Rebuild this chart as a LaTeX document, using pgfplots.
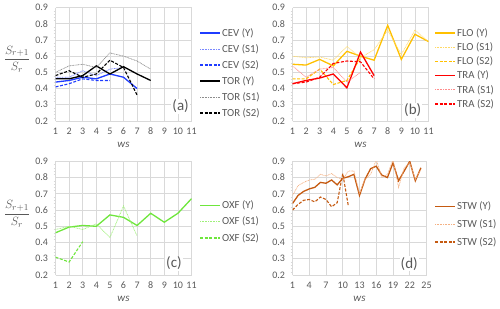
\documentclass[border=0pt]{standalone}
\usepackage{pgfplots}
\pgfplotsset{compat=1.18}
\usepackage{fontspec}
\setmainfont{Carlito}
\definecolor{tickgray}{HTML}{595959}
\definecolor{gridgray}{HTML}{D9D9D9}
\definecolor{cev}{HTML}{1F3CFF}
\definecolor{cevl}{HTML}{7A88FF}
\definecolor{torl}{HTML}{8C8C8C}
\definecolor{flo}{HTML}{FFC000}
\definecolor{flol}{HTML}{FFD966}
\definecolor{tra}{HTML}{FF0000}
\definecolor{tral}{HTML}{FF8C8C}
\definecolor{oxf}{HTML}{6EE63C}
\definecolor{oxfl}{HTML}{A0F07A}
\definecolor{stw}{HTML}{C55A11}
\definecolor{stwl}{HTML}{F4B183}
\tikzset{
  plab/.style={fill=white, inner sep=1pt, font=\fontsize{15}{17}\selectfont},
  sy/.style={line width=1.3pt},
  s1/.style={line width=0.7pt, dash pattern=on 0.9pt off 0.7pt},
  s2/.style={line width=1.1pt, dash pattern=on 3pt off 1.6pt},
  legtext/.style={anchor=west, inner sep=1pt, font=\fontsize{10.8}{12}\selectfont},
}
\pgfplotsset{
  panel/.style={
    scale only axis, width=136pt, height=113.5pt,
    ymin=0.2, ymax=0.9, ytick={0.2,0.3,0.4,0.5,0.6,0.7,0.8,0.9},
    xmin=1, xmax=11, xtick={1,2,3,4,5,6,7,8,9,10,11},
    grid=major, major grid style={draw=gridgray, line width=0.6pt},
    axis x line*=bottom, axis y line*=left,
    axis line style={draw=gridgray, line width=0.6pt},
    major tick length=0pt, minor tick length=2pt, tick align=outside,
    minor y tick num=4, minor tick style={draw=gridgray},
    /pgf/number format/assume math mode=true,
    tick label style={font=\fontsize{10}{12}\selectfont},
    yticklabel style={/tikz/xshift=-4pt, /pgf/number format/.cd, fixed, fixed zerofill, precision=1},
    xticklabel style={/tikz/yshift=-5.5pt, inner sep=1pt},
    xlabel={\textit{ws}},
    xlabel style={at={(axis description cs:0.5,0)}, anchor=center, yshift=-23.5pt, inner sep=0pt, font=\fontsize{11}{12}\selectfont},
  },
  ylab/.style={ylabel={$\displaystyle\frac{S_{r+1}}{S_r}$},
    ylabel style={rotate=-90, at={(axis description cs:0,#1)}, anchor=center, xshift=-38.5pt, font=\fontsize{12.5}{14}\selectfont}},
}
\begin{document}
\begin{tikzpicture}[x=1pt,y=1pt,color=tickgray]
\useasboundingbox (0,0) rectangle (500,-308);
% (a)
\begin{axis}[panel, at={(55.5pt,-121pt)}, anchor=south west, ylab=0.546]
\addplot[draw=cev, sy] coordinates {(1,0.44)(2,0.45)(3,0.47)(4,0.46)(5,0.49)(6,0.47)(7,0.40)};
\addplot[draw=cevl, s1] coordinates {(1,0.47)(2,0.47)(3,0.51)(4,0.48)(5,0.52)(6,0.53)};
\addplot[draw=cev, s2] coordinates {(1,0.41)(2,0.43)(3,0.46)(4,0.45)(5,0.45)};
\addplot[draw=black, sy] coordinates {(1,0.46)(2,0.46)(3,0.48)(4,0.54)(5,0.49)(6,0.535)(7,0.49)(8,0.45)};
\addplot[draw=torl, s1] coordinates {(1,0.50)(2,0.54)(3,0.55)(4,0.53)(5,0.62)(6,0.60)(7,0.57)(8,0.52)};
\addplot[draw=black, s2] coordinates {(1,0.48)(2,0.51)(3,0.47)(4,0.49)(5,0.575)(6,0.53)(7,0.36)};
\node[plab] at (axis cs:10.2,0.29) {(a)};
\end{axis}
% (b)
\begin{axis}[panel, at={(292.5pt,-121pt)}, anchor=south west]
\addplot[draw=flo, sy] coordinates {(1,0.55)(2,0.545)(3,0.58)(4,0.54)(5,0.63)(6,0.60)(7,0.575)(8,0.79)(9,0.58)(10,0.735)(11,0.69)};
\addplot[draw=flol, s1] coordinates {(1,0.60)(2,0.59)(3,0.595)(4,0.575)(5,0.66)(6,0.59)(7,0.64)(8,0.76)(9,0.61)(10,0.76)(11,0.69)};
\addplot[draw=flo, s2] coordinates {(1,0.46)(2,0.46)(3,0.52)(4,0.425)(5,0.45)(6,0.59)};
\addplot[draw=tra, sy] coordinates {(1,0.43)(2,0.45)(3,0.465)(4,0.49)(5,0.405)(6,0.625)(7,0.48)};
\addplot[draw=tral, s1] coordinates {(1,0.54)(2,0.47)(3,0.52)(4,0.53)(5,0.44)(6,0.50)};
\addplot[draw=tra, s2] coordinates {(1,0.43)(2,0.44)(3,0.47)(4,0.555)(5,0.57)(6,0.565)(7,0.46)};
\node[plab] at (axis cs:9.84,0.266) {(b)};
\end{axis}
% (c)
\begin{axis}[panel, at={(55.5pt,-275pt)}, anchor=south west, height=113.7pt, ylab=0.537]
\addplot[draw=oxf, sy] coordinates {(1,0.46)(2,0.495)(3,0.505)(4,0.50)(5,0.57)(6,0.555)(7,0.505)(8,0.58)(9,0.525)(10,0.58)(11,0.67)};
\addplot[draw=oxfl, s1] coordinates {(1,0.48)(2,0.50)(3,0.48)(4,0.515)(5,0.43)(6,0.625)(7,0.44)};
\addplot[draw=oxf, s2] coordinates {(1,0.31)(2,0.28)(3,0.405)};
\node[plab] at (axis cs:9.71,0.273) {(c)};
\end{axis}
% (d)
\begin{axis}[panel, at={(292.5pt,-275pt)}, anchor=south west, width=134pt, height=113.7pt,
  xmin=1, xmax=25, xtick={1,4,7,10,13,16,19,22,25}]
\addplot[draw=stw, sy] coordinates {(1,0.64)(2,0.69)(3,0.715)(4,0.73)(5,0.74)(6,0.77)(7,0.765)(8,0.785)(9,0.755)(10,0.795)(11,0.805)(12,0.82)(13,0.69)(14,0.79)(15,0.855)(16,0.87)(17,0.815)(18,0.80)(19,0.89)(20,0.78)(21,0.84)(22,0.90)(23,0.78)(24,0.86)};
\addplot[draw=stwl, s1] coordinates {(1,0.69)(2,0.75)(3,0.77)(4,0.785)(5,0.79)(6,0.82)(7,0.81)(8,0.825)(9,0.80)(10,0.79)(11,0.84)(12,0.84)(13,0.70)(14,0.79)(15,0.82)(16,0.91)(17,0.80)(18,0.82)(19,0.91)(20,0.74)(21,0.86)(22,0.89)(23,0.79)(24,0.85)};
\addplot[draw=stw, s2] coordinates {(1,0.60)(2,0.635)(3,0.66)(4,0.665)(5,0.65)(6,0.68)(7,0.665)(8,0.62)(9,0.645)(10,0.825)(11,0.625)};
\node[plab] at (axis cs:21.9,0.268) {(d)};
\end{axis}
% legends
\draw[draw=cev, sy] (200,-33) -- (220,-33); \node[legtext] at (221,-33) {CEV (Y)};
\draw[draw=cevl, s1] (200,-49) -- (220,-49); \node[legtext] at (221,-49) {CEV (S1)};
\draw[draw=cev, s2] (200,-65) -- (220,-65); \node[legtext] at (221,-65) {CEV (S2)};
\draw[draw=black, sy] (200,-81) -- (220,-81); \node[legtext] at (221,-81) {TOR (Y)};
\draw[draw=torl, s1] (200,-97) -- (220,-97); \node[legtext] at (221,-97) {TOR (S1)};
\draw[draw=black, s2] (200,-113) -- (220,-113); \node[legtext] at (221,-113) {TOR (S2)};
\draw[draw=flo, sy] (435,-33) -- (455,-33); \node[legtext] at (456,-33) {FLO (Y)};
\draw[draw=flol, s1] (435,-47.2) -- (455,-47.2); \node[legtext] at (456,-47.2) {FLO (S1)};
\draw[draw=flo, s2] (435,-61.4) -- (455,-61.4); \node[legtext] at (456,-61.4) {FLO (S2)};
\draw[draw=tra, sy] (435,-75.6) -- (455,-75.6); \node[legtext] at (456,-75.6) {TRA (Y)};
\draw[draw=tral, s1] (435,-89.8) -- (455,-89.8); \node[legtext] at (456,-89.8) {TRA (S1)};
\draw[draw=tra, s2] (435,-104) -- (455,-104); \node[legtext] at (456,-104) {TRA (S2)};
\draw[draw=oxf, sy] (200,-205.7) -- (220,-205.7); \node[legtext] at (221,-205.7) {OXF (Y)};
\draw[draw=oxfl, s1] (200,-221.7) -- (220,-221.7); \node[legtext] at (221,-221.7) {OXF (S1)};
\draw[draw=oxf, s2] (200,-238) -- (220,-238); \node[legtext] at (221,-238) {OXF (S2)};
\draw[draw=stw, sy] (435,-206.7) -- (455,-206.7); \node[legtext] at (456,-206.7) {STW (Y)};
\draw[draw=stwl, s1] (435,-224) -- (455,-224); \node[legtext] at (456,-224) {STW (S1)};
\draw[draw=stw, s2] (435,-242) -- (455,-242); \node[legtext] at (456,-242) {STW (S2)};
\end{tikzpicture}
\end{document}
